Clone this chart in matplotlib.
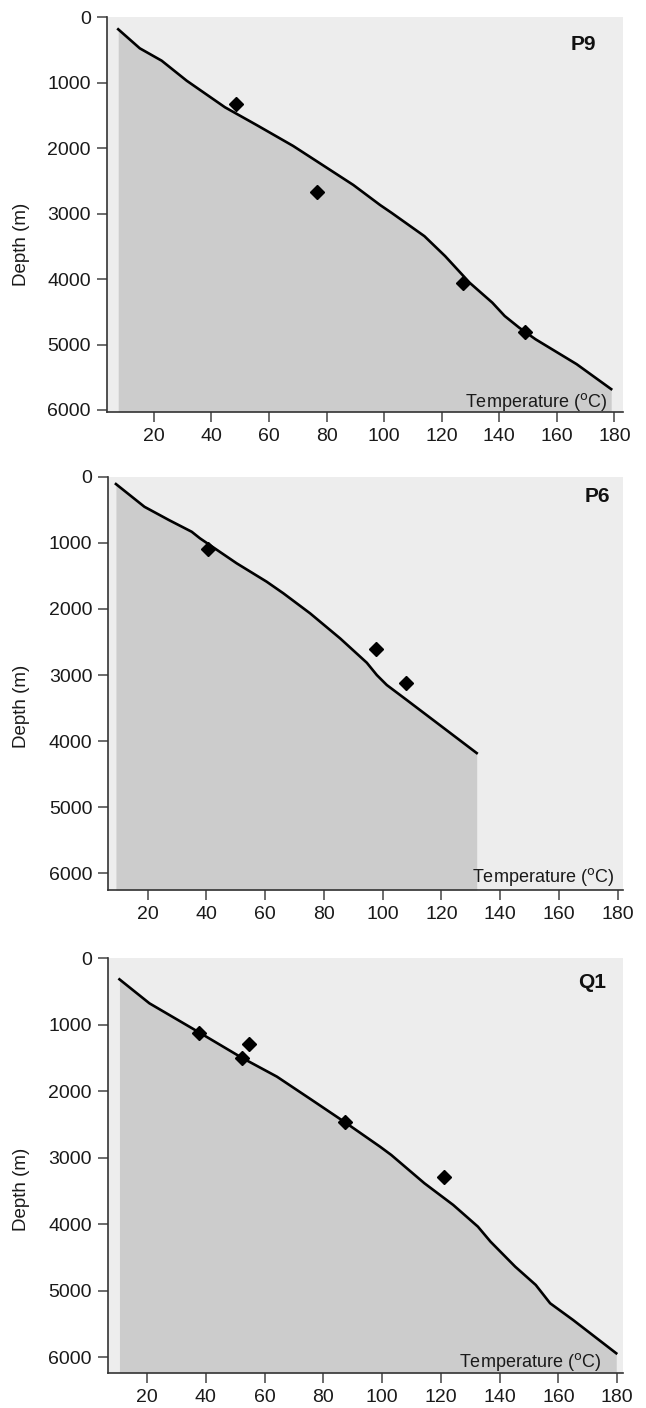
import matplotlib
matplotlib.use("Agg")
import matplotlib.pyplot as plt

plt.rcParams['font.family'] = ['Liberation Sans', 'DejaVu Sans']

# Well names
wells = ['P9', 'P6', 'Q1']

# Modelled temperature profiles (temperature in C, depth in m)
p9_temp = [7.6, 15.1, 22.7, 31.4, 44.7, 55.7, 68.4, 77.7, 89.3, 98.6, 102.6,
           114.0, 121.2, 129.7, 137.6, 141.9, 146.9, 152.6, 166.9, 178.9]
p9_depth = [183, 474, 663, 969, 1375, 1646, 1966, 2231, 2562, 2868, 2988,
            3344, 3649, 4055, 4360, 4564, 4741, 4919, 5300, 5681]

p6_temp = [9.2, 18.9, 27.3, 35.0, 37.8, 50.3, 60.5, 66.2, 75.3, 85.5, 94.6,
           98.0, 101.4, 108.2, 117.2, 132.0]
p6_depth = [111, 455, 657, 833, 932, 1310, 1588, 1764, 2067, 2445, 2814,
            3000, 3151, 3378, 3681, 4180]

q1_temp = [10.6, 20.8, 36.9, 52.2, 64.2, 76.1, 87.4, 99.3, 103.1, 114.4,
           124.2, 132.6, 136.9, 145.3, 152.3, 157.2, 165.0, 179.7]
q1_depth = [316, 677, 1093, 1494, 1780, 2131, 2467, 2833, 2957, 3383,
            3709, 4035, 4261, 4637, 4912, 5188, 5439, 5940]

# Measured temperatures
p9_meas_temp = [48.5, 76.8, 127.4, 148.9]
p9_meas_depth = [1325, 2664, 4066, 4802]

p6_meas_temp = [40.6, 97.6, 107.9]
p6_meas_depth = [1094, 2612, 3116]

q1_meas_temp = [37.7, 54.7, 52.2, 87.4, 121.1]
q1_meas_depth = [1118, 1293, 1494, 2467, 3283]

depth_ticks = [0, 1000, 2000, 3000, 4000, 5000, 6000]
temp_ticks = [20, 40, 60, 80, 100, 120, 140, 160, 180]

profiles = [(p9_temp, p9_depth), (p6_temp, p6_depth), (q1_temp, q1_depth)]
measured = [(p9_meas_temp, p9_meas_depth), (p6_meas_temp, p6_meas_depth),
            (q1_meas_temp, q1_meas_depth)]

# Layout (pixels of a 646x1408 figure)
W, H = 646, 1408
boxes = [(106.7, 17.3, 622.7, 411.7),
         (108.3, 476.7, 623.3, 890.0),
         (107.7, 958.3, 622.7, 1372.7)]
xlims = [(3.6, 182.9), (6.6, 181.9), (6.6, 181.9)]
ylims = [(6026, 0), (6251, 0), (6232, 0)]
name_pos = [(169.4, 416), (173.0, 292), (171.6, 371)]
temp_label_pos = [(177.4, 5950), (178.7, 6136), (174.5, 6150)]
depth_label_y = [244, 706.7, 1189]

fig = plt.figure(figsize=(W / 100, H / 100), dpi=100)

for i in range(3):
    x0, y0, x1, y1 = boxes[i]
    ax = fig.add_axes([x0 / W, 1 - y1 / H, (x1 - x0) / W, (y1 - y0) / H])
    ax.set_facecolor('#ededed')

    # shaded area under the profile, then the profile and the measurements
    temp, depth = profiles[i]
    ax.fill_between(temp, depth, ylims[i][0], color='#cccccc', lw=0, zorder=1)
    ax.plot(temp, depth, color='black', lw=1.9, zorder=3)
    mt, md = measured[i]
    ax.plot(mt, md, 'D', color='black', ms=7, zorder=4)

    ax.set_xlim(xlims[i])
    ax.set_ylim(ylims[i])
    ax.set_xticks(temp_ticks)
    ax.set_yticks(depth_ticks)

    for s in ['top', 'right']:
        ax.spines[s].set_visible(False)
    for s in ['left', 'bottom']:
        ax.spines[s].set_color('#333333')
        ax.spines[s].set_linewidth(1.2)
    ax.tick_params(axis='both', direction='out', length=7.5, width=1.1,
                   color='#444444', labelsize=14, labelcolor='#1a1a1a', pad=4)

    ax.text(name_pos[i][0], name_pos[i][1], wells[i], fontsize=15,
            fontweight='bold', ha='center', va='center', color='#111111', zorder=5)
    ax.text(temp_label_pos[i][0], temp_label_pos[i][1],
            r'Temperature ($^{\mathrm{o}}$C)', fontsize=13, ha='right',
            va='baseline', color='#1a1a1a', zorder=5)

    fig.text(21.7 / W, 1 - depth_label_y[i] / H, 'Depth (m)', rotation=90,
             fontsize=13.5, ha='center', va='center', color='#1a1a1a')

fig.savefig('out.png', dpi=100)
